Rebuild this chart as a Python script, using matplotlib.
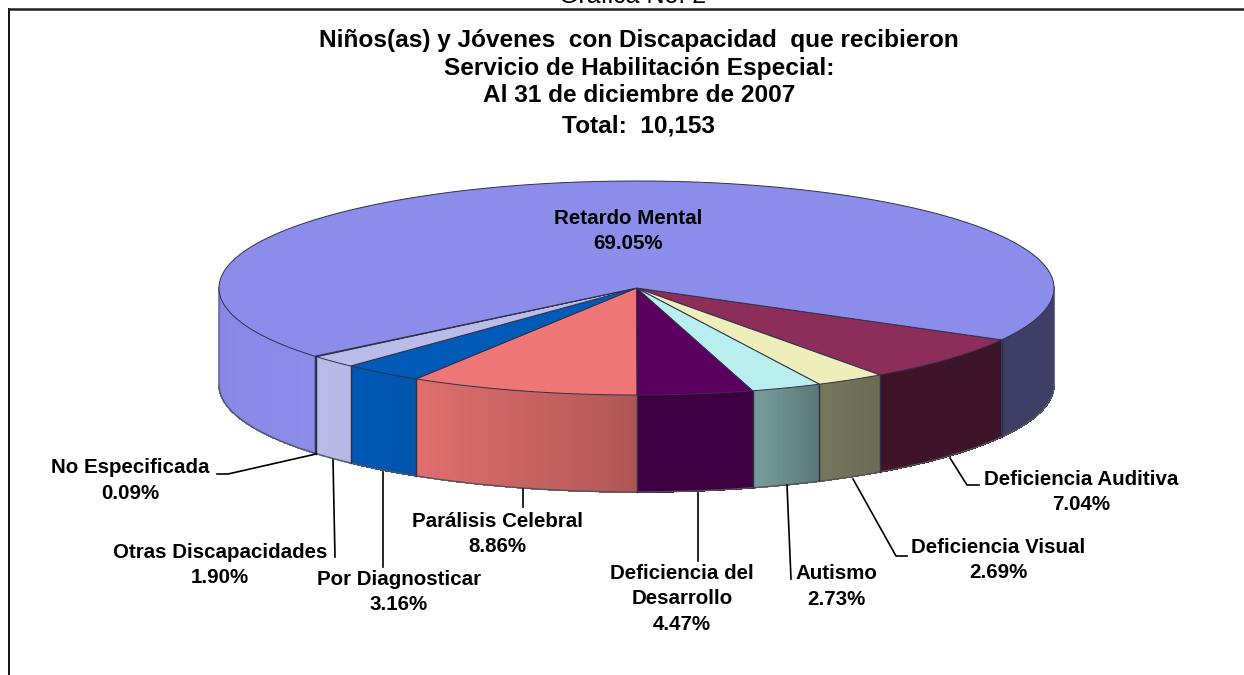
import numpy as np
import matplotlib
matplotlib.use("Agg")
import matplotlib.pyplot as plt

plt.rcParams['font.family'] = ['Liberation Sans', 'DejaVu Sans']

# slices, clockwise from the right end of Retardo Mental
names = ["Deficiencia Auditiva", "Deficiencia Visual", "Autismo", "Deficiencia del\nDesarrollo",
         "Parálisis Celebral", "Por Diagnosticar", "Otras Discapacidades", "No Especificada", "Retardo Mental"]
values = [7.04, 2.69, 2.73, 4.47, 8.86, 3.16, 1.90, 0.09, 69.05]
colors = ["#8c2d5a", "#eeeebb", "#b8eeee", "#5c0060", "#ef7676", "#005ab8", "#bbbbea", "#8c8ceb", "#8c8ceb"]

title_lines = ["Niños(as) y Jóvenes  con Discapacidad  que recibieron",
               "Servicio de Habilitación Especial:",
               "Al 31 de diciembre de 2007",
               "Total:  10,153"]
title_y = [40, 68, 96, 126]

# label text position, then leader line points
label_pos = [(1081, 492), (998, 560), (836, 586.5), (682, 599), (497, 534), (399, 592), (220, 565), (130, 480.5), (628, 231)]
leaders = [[(950, 458), (967, 485), (979, 485)],
           [(853, 479), (896, 556), (907, 556)],
           [(787, 485), (791, 579)],
           [(698, 493), (698, 561)],
           [(522.5, 489), (522.5, 507)],
           [(383, 472), (383, 567)],
           [(333, 460), (335, 557)],
           [(316, 454), (228, 474), (217, 474)],
           None]

cx, cy = 636.5, 288
rx, ry = 417.5, 107
depth = 97
start = -29.0
edge = "#30304a"

# how much a side wall is darkened, by angle on the rim
shade_angle = [-180, -140, -133, -122, -90.5, -89.5, -74, -64, -54, -29, 0]
shade_value = [0.96, 1.00, 0.98, 0.94, 0.74, 0.68, 0.67, 0.50, 0.45, 0.44, 0.44]


def rim(deg):
    t = np.radians(deg)
    return cx + rx * np.cos(t), cy - ry * np.sin(t)


def wall(a0, a1, color):
    # side wall between two angles, only the part that faces the viewer
    lo, hi = max(min(a0, a1), -180), min(max(a0, a1), 0)
    if hi <= lo:
        return
    base = np.array(matplotlib.colors.to_rgb(color))
    steps = np.linspace(lo, hi, max(int(hi - lo) * 2, 2) + 1)
    for s0, s1 in zip(steps[:-1], steps[1:]):
        ts = np.array([s0, s1])
        x, y = rim(ts)
        k = np.interp((s0 + s1) / 2, shade_angle, shade_value)
        ax.fill([x[0], x[1], x[1], x[0]], [y[0], y[1], y[1] + depth, y[0] + depth],
                color=base * k, lw=0.6, antialiased=False, zorder=2)
    ts = np.linspace(lo, hi, 60)
    x, y = rim(ts)
    ax.plot(x, y + depth, color="#555560", lw=1.0, zorder=3)
    for s in (lo, hi):
        if s > -180 and s < 0:
            xs, ys = rim(s)
            ax.plot([xs, xs], [ys, ys + depth], color=edge, lw=0.9, zorder=3)


fig = plt.figure(figsize=(12.44, 6.75), dpi=100)
ax = fig.add_axes([0, 0, 1, 1])
ax.set_xlim(0, 1244)
ax.set_ylim(675, 0)
ax.axis("off")

# frame
ax.plot([8.5, 8.5], [675, 8.5], color="black", lw=1.3)
ax.plot([8.5, 1244], [8.5, 8.5], color="#222222", lw=1.8)
ax.text(632.5, 3, "Gráfica No. 2", ha="center", va="baseline", fontsize=18)

angles = start - np.cumsum([0] + values) * 3.6 * 100 / sum(values)
for i in range(len(values)):
    a0, a1 = angles[i], angles[i + 1]
    wall(a0, a1, colors[i])
    if a1 < -180:
        wall(a0 + 360, a1 + 360, colors[i])
    ts = np.linspace(a0, a1, max(int(abs(a1 - a0)) * 2, 4))
    x, y = rim(ts)
    ax.fill(np.r_[cx, x], np.r_[cy, y], facecolor=colors[i], edgecolor=edge, lw=0.7, zorder=4)

# left and right silhouette of the wall
for s in (-180, 0):
    xs, ys = rim(s)
    ax.plot([xs, xs], [ys, ys + depth], color="#707088", lw=0.8, zorder=3)

for line, y in zip(title_lines, title_y):
    ax.text(639, y, line, ha="center", va="center", fontsize=17.6, fontweight="bold", zorder=6)

for i in range(len(names)):
    if leaders[i] is not None:
        pts = np.array(leaders[i])
        ax.plot(pts[:, 0], pts[:, 1], color="black", lw=1.2, zorder=5)
    ax.text(label_pos[i][0], label_pos[i][1], "%s\n%.2f%%" % (names[i], values[i]), ha="center", va="center",
            fontsize=14.8, fontweight="bold", linespacing=1.45, zorder=6)

fig.savefig("out.png", dpi=100)
